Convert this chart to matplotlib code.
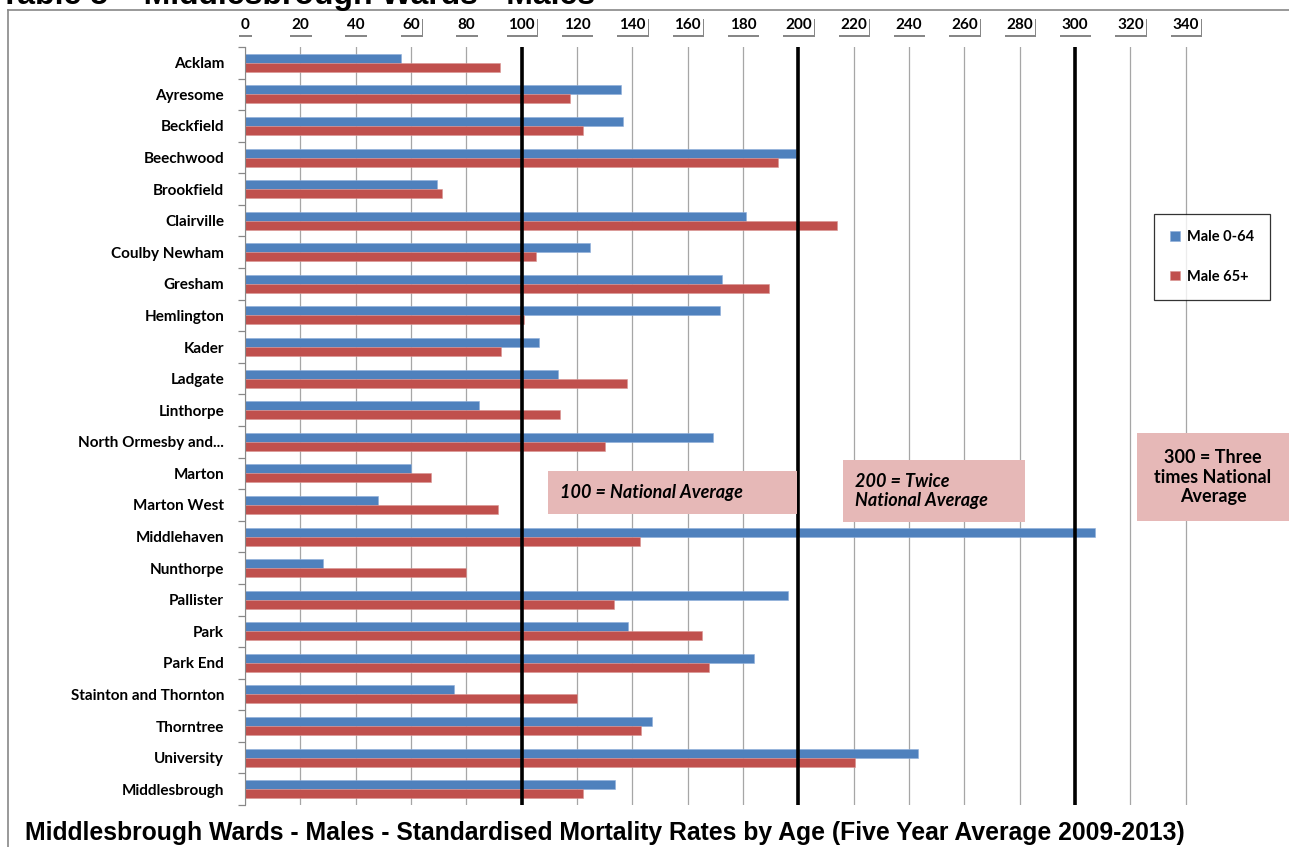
import numpy as np
import matplotlib
matplotlib.use("Agg")
import matplotlib.pyplot as plt
import matplotlib.patheffects as pe
from matplotlib.patches import Rectangle
from matplotlib.lines import Line2D

wards = ["Acklam", "Ayresome", "Beckfield", "Beechwood", "Brookfield", "Clairville",
         "Coulby Newham", "Gresham", "Hemlington", "Kader", "Ladgate", "Linthorpe",
         "North Ormesby and...", "Marton", "Marton West", "Middlehaven", "Nunthorpe",
         "Pallister", "Park", "Park End", "Stainton and Thornton", "Thorntree",
         "University", "Middlesbrough"]
male_0_64 = [56.4, 135.8, 136.8, 199.2, 69.5, 181.1, 124.6, 172.4, 171.8, 106.1, 113.2, 84.4,
             169.2, 59.9, 48.1, 307.1, 28.3, 196.2, 138.3, 184.1, 75.6, 147.0, 243.4, 133.9]
male_65_plus = [92.1, 117.5, 122.0, 192.8, 71.3, 213.8, 105.3, 189.4, 101.0, 92.4, 137.9, 113.8,
                130.0, 67.4, 91.6, 142.6, 79.9, 133.4, 165.3, 167.7, 120.0, 143.0, 220.5, 122.2]
x_ticks = list(range(0, 341, 20))
ref_lines = [100, 200, 300]
series_names = ["Male 0-64", "Male 65+"]

W, H = 1289, 847
BLUE = "#4F81BD"
RED = "#C0504D"
PINK = "#E6B8B7"
LABEL_FONT = ["Lato", "DejaVu Sans"]


def fx(px):
    return px / W


def fy(py):
    return 1 - py / H


fig = plt.figure(figsize=(W / 100, H / 100), dpi=100)
ax = fig.add_axes([fx(245), fy(805), fx(1241) - fx(245), fy(47) - fy(805)])

y = np.arange(len(wards))
bh = 0.285
ax.barh(y - bh / 2, male_0_64, height=bh, color=BLUE, edgecolor="#8EAEDB", linewidth=0.4,
        label=series_names[0], zorder=2)
ax.barh(y + bh / 2, male_65_plus, height=bh, color=RED, edgecolor="#D99492", linewidth=0.4,
        label=series_names[1], zorder=2)

for v in ref_lines:
    ax.axvline(v, color="black", lw=2.6, zorder=4)

ax.set_xlim(0, 360)
ax.set_ylim(len(wards) - 0.5, -0.5)

ax.set_xticks(x_ticks)
ax.xaxis.grid(True, color="#A6A6A6", lw=0.9, zorder=0)
ax.set_axisbelow(True)
ax.tick_params(axis="x", which="both", bottom=False, top=False, labelbottom=False,
               labeltop=True, pad=7, labelsize=11)
for t in ax.xaxis.get_major_ticks():
    lab = t.label2
    lab.set_fontfamily(LABEL_FONT)
    lab.set_fontweight("bold")
    lab.set_bbox(dict(boxstyle="square,pad=0.15", fc="white", ec="none"))
    lab.get_bbox_patch().set_path_effects(
        [pe.withSimplePatchShadow(offset=(0.5, -2), shadow_rgbFace="#555555", alpha=0.7)])

ax.set_yticks(y)
ax.set_yticklabels(wards, fontfamily=LABEL_FONT, fontweight="bold", fontsize=11)
ax.set_yticks(np.arange(len(wards) + 1) - 0.5, minor=True)
ax.tick_params(axis="y", which="major", length=0, pad=15)
ax.tick_params(axis="y", which="minor", length=5, color="#888888", width=0.9)

for s in ["top", "right", "bottom"]:
    ax.spines[s].set_visible(False)
ax.spines["left"].set_color("#888888")

leg = fig.legend(loc="upper left", bbox_to_anchor=(fx(1154), fy(214)),
                 prop={"family": LABEL_FONT, "weight": "bold", "size": 10.5},
                 frameon=True, fancybox=False, edgecolor="black", handlelength=0.65,
                 handleheight=0.65, handletextpad=0.5, labelspacing=1.75,
                 borderpad=1.1, borderaxespad=0)
leg.get_frame().set_linewidth(0.9)

# note boxes for the reference lines
notes = [
    ((548, 471, 797, 514), "100 = National Average", (560, 492), "left", "italic"),
    ((843, 460, 1025, 522), "200 = Twice\nNational Average", (855, 491), "left", "italic"),
    ((1137, 433, 1295, 521), "300 = Three\ntimes National\nAverage", (1213, 477), "center", "normal"),
]
for (x0, y0, x1, y1), txt, (tx, ty), ha, style in notes:
    fig.patches.append(Rectangle((fx(x0), fy(y1)), fx(x1) - fx(x0), fy(y0) - fy(y1),
                                 transform=fig.transFigure, fc=PINK, ec="none", zorder=5))
    fig.text(fx(tx), fy(ty), txt, ha=ha, va="center", fontsize=13, fontweight="bold",
             fontstyle=style, family=LABEL_FONT, linespacing=1.2, zorder=6)

# outer frame, clipped at the right and bottom edges
fig.lines.append(Line2D([fx(8), fx(8)], [fy(10), 0], transform=fig.transFigure,
                        color="#888888", lw=1.2))
fig.lines.append(Line2D([fx(8), 1], [fy(10), fy(10)], transform=fig.transFigure,
                        color="#888888", lw=1.2))

fig.text(fx(0), fy(4), "Table 5 \u2013 Middlesbrough Wards - Males", ha="left", va="baseline",
         fontsize=23, fontweight="bold", family="Liberation Sans")
fig.text(fx(25), fy(833),
         "Middlesbrough Wards - Males - Standardised Mortality Rates by Age (Five Year Average 2009-2013)",
         ha="left", va="center", fontsize=17.8, fontweight="bold", family="Liberation Sans")

fig.savefig("out.png", dpi=100)
